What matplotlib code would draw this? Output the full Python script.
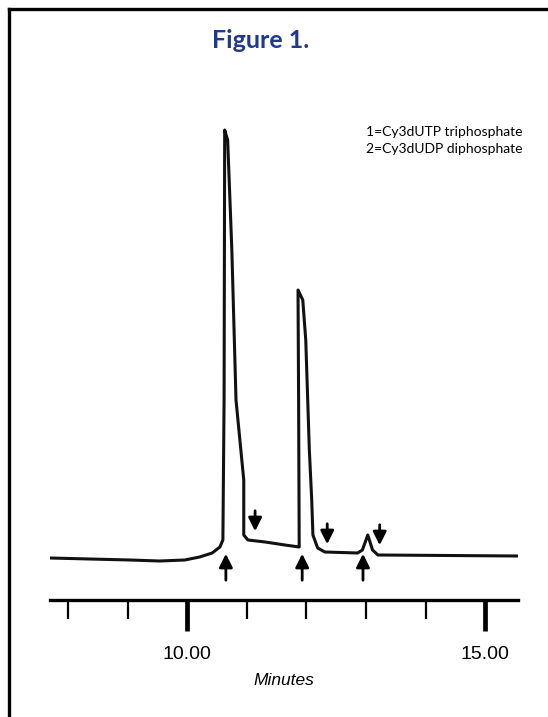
import matplotlib.pyplot as plt
from matplotlib.lines import Line2D

# trace (minutes, detector signal in arbitrary units)
minutes = [7.70, 8.37, 9.04, 9.54, 9.96, 10.21, 10.42, 10.55, 10.60, 10.62, 10.63,
           10.68, 10.75, 10.82, 10.95, 10.95, 11.02, 11.31, 11.64, 11.88, 11.87,
           11.86, 11.94, 11.99, 12.05, 12.09, 12.11, 12.19, 12.31, 12.86, 12.94, 13.03,
           13.11, 13.20, 15.55]
signal = [8.4, 8.2, 8.0, 7.8, 8.0, 8.6, 9.4, 10.6, 12.0, 40.0, 94.0,
          92.0, 70.0, 40.0, 24.0, 13.0, 12.0, 11.6, 11.0, 10.6, 40.0,
          62.0, 60.0, 52.0, 30.0, 20.0, 13.0, 10.4, 9.6, 9.4, 10.0, 13.0,
          10.0, 9.0, 8.8]

# integration markers
up_arrows = [10.65, 11.93, 12.95]
down_arrows = [11.14, 12.35, 13.23]
down_tips = [13.2, 10.6, 10.4]

legend_lines = ['1=Cy3dUTP triphosphate', '2=Cy3dUDP diphosphate']

fig = plt.figure(figsize=(5.48, 7.17), dpi=100)
ax = fig.add_axes([50 / 548, 117 / 717, 468 / 548, 500 / 717])

ax.plot(minutes, signal, color='#111111', lw=2.2, solid_joinstyle='round')

for x in up_arrows:
    ax.annotate('', xy=(x, 9.8), xytext=(x, 3.4),
                arrowprops=dict(arrowstyle='-|>', color='black', lw=2,
                                mutation_scale=20))
for x, tip in zip(down_arrows, down_tips):
    ax.annotate('', xy=(x, tip), xytext=(x, tip + 5.2),
                arrowprops=dict(arrowstyle='-|>', color='black', lw=2,
                                mutation_scale=20))

ax.set_xlim(7.70, 15.55)
ax.set_ylim(0, 100)
for s in ['left', 'right', 'top']:
    ax.spines[s].set_visible(False)
ax.spines['bottom'].set_linewidth(2.4)
ax.set_yticks([])

ax.set_xticks([10, 15])
ax.set_xticklabels(['10.00', '15.00'], family='Liberation Sans', fontsize=14)
ax.set_xticks([8, 9, 11, 12, 13, 14], minor=True)
ax.tick_params(axis='x', which='major', length=22, width=3.4, pad=11)
ax.tick_params(axis='x', which='minor', length=13.5, width=1.6)
ax.set_xlabel('Minutes', family='Liberation Sans', style='italic', fontsize=12.5,
              labelpad=7)

fig.text(261 / 548, 1 - 40 / 717, 'Figure 1.', color='#22388c', fontsize=18,
         fontweight='bold', family='Lato', ha='center', va='center')
fig.text(523 / 548, 1 - 132 / 717, legend_lines[0], fontsize=10, family='Lato',
         ha='right', va='center')
fig.text(523 / 548, 1 - 149 / 717, legend_lines[1], fontsize=10, family='Lato',
         ha='right', va='center')

# frame round the figure (only left and top edges are visible)
fig.add_artist(Line2D([9 / 548, 9 / 548], [0, 1 - 9 / 717], color='black', lw=2.4,
                      transform=fig.transFigure))
fig.add_artist(Line2D([9 / 548, 1], [1 - 9 / 717, 1 - 9 / 717], color='black', lw=2.4,
                      transform=fig.transFigure))

fig.savefig('out.png', dpi=100)
